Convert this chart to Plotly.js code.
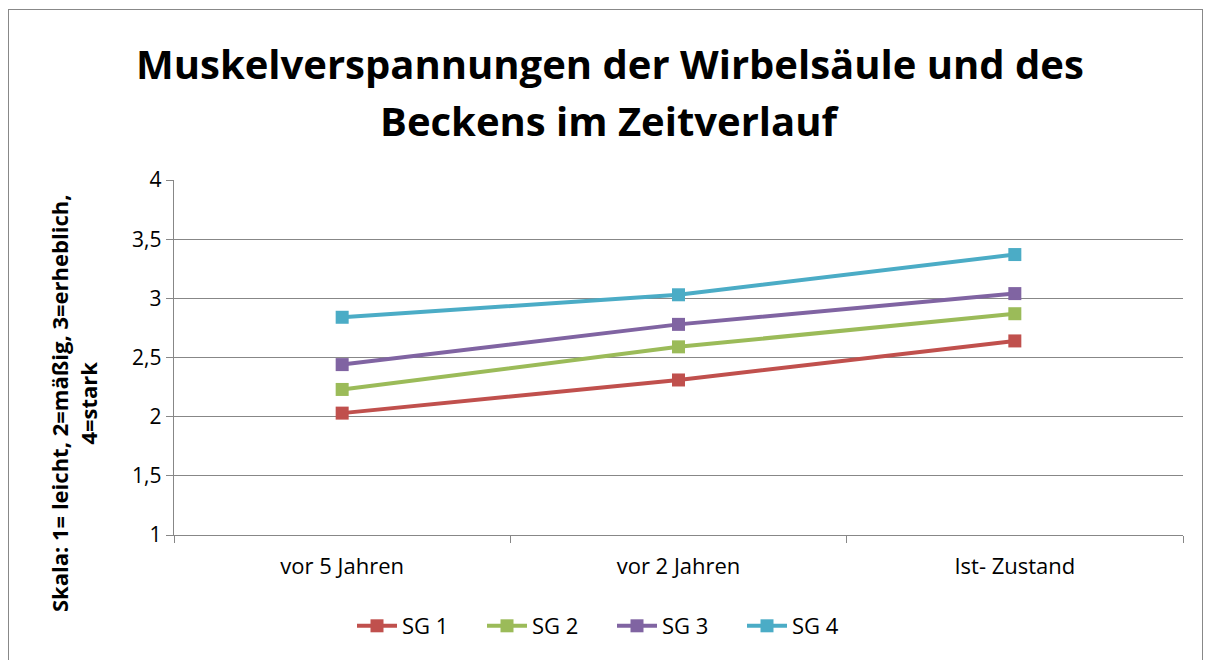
<!DOCTYPE html>
<html>
<head>
<meta charset="utf-8">
<script src="https://cdn.plot.ly/plotly-3.0.1.min.js"></script>
<style>
  html, body { margin: 0; padding: 0; background: #fff; }
  #wrap { position: relative; width: 1207px; height: 660px; }
  #chart { width: 1207px; height: 660px; }
  #frame { position: absolute; left: 8px; top: 9px; width: 1195px; height: 660px; border: 1px solid #888; border-bottom: none; pointer-events: none; box-sizing: border-box; }
</style>
</head>
<body>
<div id="wrap">
  <div id="chart"></div>
  <div id="frame"></div>
</div>
<script>
const categories = ["vor 5 Jahren", "vor 2 Jahren", "Ist- Zustand"];
const seriesNames = ["SG 1", "SG 2", "SG 3", "SG 4"];
const sg1 = [2.03, 2.31, 2.64];
const sg2 = [2.23, 2.59, 2.87];
const sg3 = [2.44, 2.78, 3.04];
const sg4 = [2.84, 3.03, 3.37];
const yTickVals = [1, 1.5, 2, 2.5, 3, 3.5, 4];
const yTickText = ["1", "1,5", "2", "2,5", "3", "3,5", "4"];
const colors = ["#C0504D", "#9BBB59", "#8064A2", "#4BACC6"];

const allSeries = [sg1, sg2, sg3, sg4];
const FONT = "Open Sans, sans-serif";

const traces = allSeries.map((vals, i) => ({
  type: "scatter",
  mode: "lines+markers",
  name: seriesNames[i],
  x: categories,
  y: vals,
  line: { color: colors[i], width: 4 },
  marker: { symbol: "square", size: 13, color: colors[i] }
}));

const PL = 174, PT = 180, PW = 1009, PH = 355;
const px = v => (v - PL) / PW;
const py = v => (PT + PH - v) / PH;

const layout = {
  width: 1207,
  height: 660,
  margin: { l: PL, r: 1207 - PL - PW, t: PT, b: 660 - PT - PH },
  paper_bgcolor: "#fff",
  plot_bgcolor: "#fff",
  font: { family: FONT, color: "#000", size: 20 },
  xaxis: {
    type: "category",
    range: [-0.5, 2.5],
    tickson: "boundaries",
    ticks: "outside",
    ticklen: 7,
    tickcolor: "#878787",
    showline: true,
    linecolor: "#878787",
    linewidth: 1.3,
    showgrid: false,
    zeroline: false,
    ticklabelstandoff: 11,
    tickfont: { family: FONT, size: 22, color: "#000" }
  },
  yaxis: {
    range: [1, 4],
    tickvals: yTickVals,
    ticktext: yTickText,
    ticks: "outside",
    ticklen: 7,
    tickcolor: "#878787",
    showline: true,
    linecolor: "#878787",
    linewidth: 1.3,
    showgrid: true,
    gridcolor: "#878787",
    gridwidth: 1.3,
    zeroline: false,
    tickfont: { family: FONT, size: 21, color: "#000" }
  },
  legend: {
    orientation: "h",
    x: px(612), xanchor: "center",
    y: py(626), yanchor: "middle",
    font: { family: FONT, size: 22, color: "#000" },
    itemwidth: 40,
    entrywidth: 75,
    entrywidthmode: "pixels",
    tracegroupgap: 0
  },
  annotations: [
    {
      text: "<b>Muskelverspannungen der Wirbelsäule und des</b>",
      xref: "paper", yref: "paper",
      x: px(610), y: py(63),
      xanchor: "center", yanchor: "middle",
      showarrow: false,
      font: { family: FONT, size: 40, color: "#000" }
    },
    {
      text: "<b>Beckens im Zeitverlauf</b>",
      xref: "paper", yref: "paper",
      x: px(610), y: py(120),
      xanchor: "center", yanchor: "middle",
      showarrow: false,
      font: { family: FONT, size: 40, color: "#000" }
    },
    {
      text: "<b>Skala: 1= leicht, 2=mäßig, 3=erheblich,<br>4=stark</b>",
      xref: "paper", yref: "paper",
      x: px(73), y: py(404),
      xanchor: "center", yanchor: "middle",
      textangle: -90,
      showarrow: false,
      font: { family: FONT, size: 22, color: "#000" }
    }
  ],
  showlegend: true
};

Plotly.newPlot("chart", traces, layout, { displayModeBar: false, staticPlot: true });
</script>
</body>
</html>
